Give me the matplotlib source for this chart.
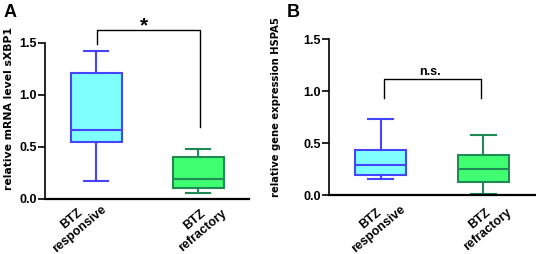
import matplotlib.pyplot as plt

plt.rcParams['font.family'] = ['Liberation Sans', 'DejaVu Sans']

groups = ["BTZ\nresponsive", "BTZ\nrefractory"]

# whislo, q1, med, q3, whishi
sxbp1_resp = [0.17, 0.54, 0.66, 1.21, 1.42]
sxbp1_refr = [0.05, 0.10, 0.19, 0.40, 0.48]
hspa5_resp = [0.16, 0.195, 0.29, 0.435, 0.73]
hspa5_refr = [0.01, 0.125, 0.25, 0.39, 0.575]

fills = ["#80FFFF", "#40FF70"]
edges = ["#4545FF", "#1F8A55"]


def stats(vals, label):
    lo, q1, med, q3, hi = vals
    return dict(whislo=lo, q1=q1, med=med, q3=q3, whishi=hi, label=label, fliers=[])


def draw_panel(ax, data, ylabel, ylab_size, ylab_pos, xlab_pos, bracket, sig, sig_pos, sig_size):
    for i, vals in enumerate(data):
        ax.bxp([stats(vals, groups[i])], positions=[i + 1], widths=0.5,
               patch_artist=True, showfliers=False, capwidths=0.24,
               boxprops=dict(facecolor=fills[i], edgecolor=edges[i], linewidth=1.5),
               medianprops=dict(color=edges[i], linewidth=1.5),
               whiskerprops=dict(color=edges[i], linewidth=1.5),
               capprops=dict(color=edges[i], linewidth=1.5))
    ax.set_xlim(0.5, 2.5)
    ax.set_ylim(0, 1.5)
    ax.set_yticks([0.0, 0.5, 1.0, 1.5])
    ax.set_yticklabels(["0.0", "0.5", "1.0", "1.5"], fontsize=9, fontweight='bold')
    ax.set_xticks([1, 2])
    ax.set_xticklabels([])
    ax.tick_params(axis='x', length=0)
    ax.tick_params(axis='y', length=5, width=1.2, pad=1)
    # group labels, rotated like the original
    for lab, (tx, ty) in zip(groups, xlab_pos):
        ax.text(tx, ty, lab, transform=ax.transAxes, rotation=40, rotation_mode='anchor',
                ha='right', va='bottom', multialignment='center', fontsize=9,
                fontweight='bold', linespacing=1.15)
    ax.set_ylabel(ylabel, fontsize=ylab_size, fontweight='bold', family='DejaVu Sans',
                  ha='center', va='center')
    ax.yaxis.set_label_coords(ylab_pos[0], ylab_pos[1], transform=ax.figure.transFigure)
    for s in ['top', 'right']:
        ax.spines[s].set_visible(False)
    ax.spines['left'].set_linewidth(1.2)
    ax.spines['bottom'].set_linewidth(1.6)
    x1, x2, top, l1, l2 = bracket
    ax.plot([x1, x1, x2, x2], [l1, top, top, l2], color='black', lw=1.0, clip_on=False)
    ax.text(sig_pos[0], sig_pos[1], sig, ha='center', va='center', fontsize=sig_size,
            fontweight='bold', clip_on=False)


fig = plt.figure(figsize=(5.36, 2.54), dpi=100)
axA = fig.add_axes([0.084, 0.218, 0.381, 0.614])
axB = fig.add_axes([0.614, 0.231, 0.384, 0.615])

draw_panel(axA, [sxbp1_resp, sxbp1_refr], "relative mRNA level sXBP1", 7.8, (0.017, 0.571),
           [(0.314, -0.092), (0.902, -0.111)],
           (1.01, 2.02, 1.62, 1.49, 0.69), "*", (1.465, 1.66), 15)
draw_panel(axB, [hspa5_resp, hspa5_refr], "relative gene expression HSPA5", 7.2, (0.514, 0.579),
           [(0.383, -0.113), (0.898, -0.127)],
           (1.03, 1.975, 1.115, 0.93, 0.93), "n.s.", (1.48, 1.18), 9)

fig.text(0.006, 0.985, "A", fontsize=13, fontweight='bold', va='top')
fig.text(0.535, 0.985, "B", fontsize=13, fontweight='bold', va='top')

fig.savefig("out.png", dpi=100)
